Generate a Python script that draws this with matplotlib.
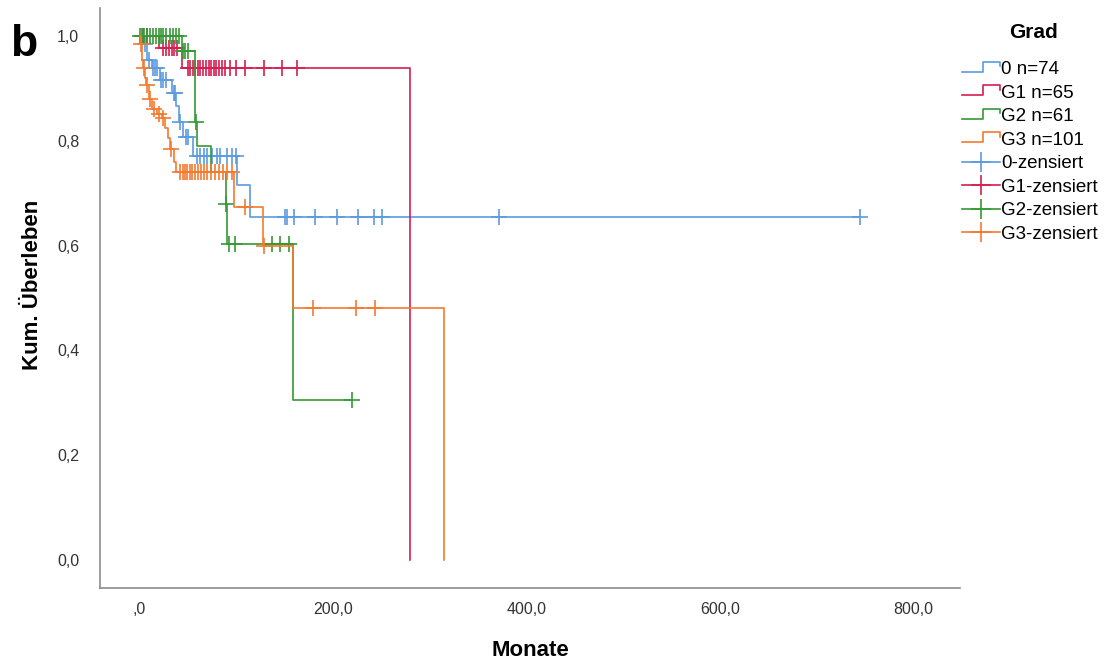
import matplotlib
matplotlib.use("Agg")
import matplotlib.pyplot as plt
from matplotlib.lines import Line2D
from matplotlib.legend_handler import HandlerBase
from matplotlib.ticker import FuncFormatter
import numpy as np

plt.rcParams['font.family'] = ['Liberation Sans', 'DejaVu Sans']

# Kaplan-Meier Stufen (Zeitpunkte in Monaten, Überleben danach)
blue_t = [0, 5, 8, 13, 21, 33, 38, 41, 45, 55, 101, 114]
blue_s = [1.0, 0.985, 0.955, 0.939, 0.916, 0.891, 0.866, 0.837, 0.808, 0.772, 0.715, 0.655]
blue_end = 745
blue_cens = [6, 10, 14, 16, 18, 22, 24, 27, 36, 37, 42, 48, 50, 59, 62, 66, 70, 75, 80,
             83, 90, 95, 100, 150, 152, 160, 181, 204, 226, 242, 250, 371, 745]

red_t = [0, 20, 44, 279]
red_s = [1.0, 0.977, 0.939, 0.0]
red_end = None
red_cens = [3, 8, 24, 27, 30, 33, 36, 39, 50, 52, 55, 57, 60, 62, 65, 69, 72, 74, 77,
            79, 82, 85, 88, 93, 100, 109, 129, 147, 163]

green_t = [0, 44, 57, 59, 74, 89, 90, 159]
green_s = [1.0, 0.971, 0.837, 0.791, 0.741, 0.68, 0.603, 0.305]
green_end = 220
green_cens = [0, 2, 5, 8, 11, 14, 17, 20, 22, 24, 27, 31, 34, 38, 41, 45, 47, 50, 58,
              89.5, 92, 99, 137, 145, 154, 220]

orange_t = [0, 1, 2, 3, 6, 7, 10, 13, 18, 23, 26, 29, 31, 35, 38, 98, 128, 159, 315]
orange_s = [1.0, 0.985, 0.955, 0.939, 0.92, 0.906, 0.881, 0.862, 0.852, 0.843, 0.824,
            0.805, 0.785, 0.76, 0.741, 0.674, 0.6, 0.481, 0.0]
orange_end = None
orange_cens = [1.5, 4, 8, 11, 15, 20, 24, 32, 42, 45, 47, 49, 52, 54, 57, 60, 63, 66,
               70, 74, 78, 82, 86, 90, 95, 109, 129, 179, 224, 243]

labels = ["0 n=74", "G1 n=65", "G2 n=61", "G3 n=101"]
cens_labels = ["0-zensiert", "G1-zensiert", "G2-zensiert", "G3-zensiert"]
colors = ["#5b9be0", "#d61f50", "#359a35", "#f47a30"]

groups = [
    (blue_t, blue_s, blue_end, blue_cens),
    (red_t, red_s, red_end, red_cens),
    (green_t, green_s, green_end, green_cens),
    (orange_t, orange_s, orange_end, orange_cens),
]


def surv_at(times, surv, t):
    idx = np.searchsorted(times, t, side="right") - 1
    return np.array(surv)[idx]


class StepHandler(HandlerBase):
    def create_artists(self, legend, orig_handle, xdescent, ydescent,
                       width, height, fontsize, trans):
        x0 = -xdescent
        y0 = -ydescent
        xs = [x0, x0 + width * 0.55, x0 + width * 0.55, x0 + width, x0 + width]
        ys = [y0 + height * 0.2, y0 + height * 0.2, y0 + height * 0.95,
              y0 + height * 0.95, y0 + height * 0.6]
        line = Line2D(xs, ys, color=orig_handle.get_color(), lw=1.2)
        line.set_transform(trans)
        return [line]


fig = plt.figure(figsize=(11.15, 6.66), dpi=100)
ax = fig.add_axes([100 / 1115, 78 / 666, 860 / 1115, 580 / 666])

for (t, s, end, cens), c in zip(groups, colors):
    xs = list(t)
    ys = list(s)
    if end is not None:
        xs.append(end)
        ys.append(s[-1])
    ax.step(xs, ys, where="post", color=c, lw=1.2)
    cy = surv_at(t, s, cens)
    ax.plot(cens, cy, linestyle="none", marker="+", color=c, ms=11, mew=1.2)

ax.set_xlim(-41, 848)
ax.set_ylim(-0.054, 1.054)
ax.set_xticks([0, 200, 400, 600, 800])
ax.set_yticks([0, 0.2, 0.4, 0.6, 0.8, 1.0])


def fmt_x(v, pos):
    if v == 0:
        return ",0"
    return f"{v:.1f}".replace(".", ",")


ax.xaxis.set_major_formatter(FuncFormatter(fmt_x))
ax.yaxis.set_major_formatter(FuncFormatter(lambda v, p: f"{v:.1f}".replace(".", ",")))
ax.tick_params(length=0, labelsize=11.5, labelcolor="#333333")
ax.tick_params(axis="x", pad=10)
ax.tick_params(axis="y", pad=15)
for side in ["top", "right"]:
    ax.spines[side].set_visible(False)
for side in ["left", "bottom"]:
    ax.spines[side].set_color("#8c8c8c")
    ax.spines[side].set_linewidth(1.2)

fig.text(530 / 1115, 1 - 650 / 666, "Monate", fontsize=16, fontweight="bold",
         ha="center", va="center")
fig.text(33 / 1115, 1 - 285 / 666, "Kum. Überleben", fontsize=16, fontweight="bold",
         ha="center", va="center", rotation=90)

fig.text(10 / 1115, 1 - 44 / 666, "b", fontsize=32, fontweight="bold", va="center")

# Legende
fig.text(1033 / 1115, 1 - 33 / 666, "Grad", fontsize=15, fontweight="bold",
         ha="center", va="center")
handles = [Line2D([], [], color=c) for c in colors]
cens_handles = [Line2D([], [], color=c, marker="+", ms=14, mew=1.2, lw=1.2) for c in colors]
handler_map = {h: StepHandler() for h in handles}
fig.legend(handles + cens_handles, labels + cens_labels, handler_map=handler_map,
           loc="upper left", bbox_to_anchor=(962 / 1115, 1 - 61 / 666),
           frameon=False, fontsize=13.5, handlelength=2.0, handletextpad=0.1,
           labelspacing=0.34, borderaxespad=0, borderpad=0)

fig.savefig("out.png", dpi=100)
